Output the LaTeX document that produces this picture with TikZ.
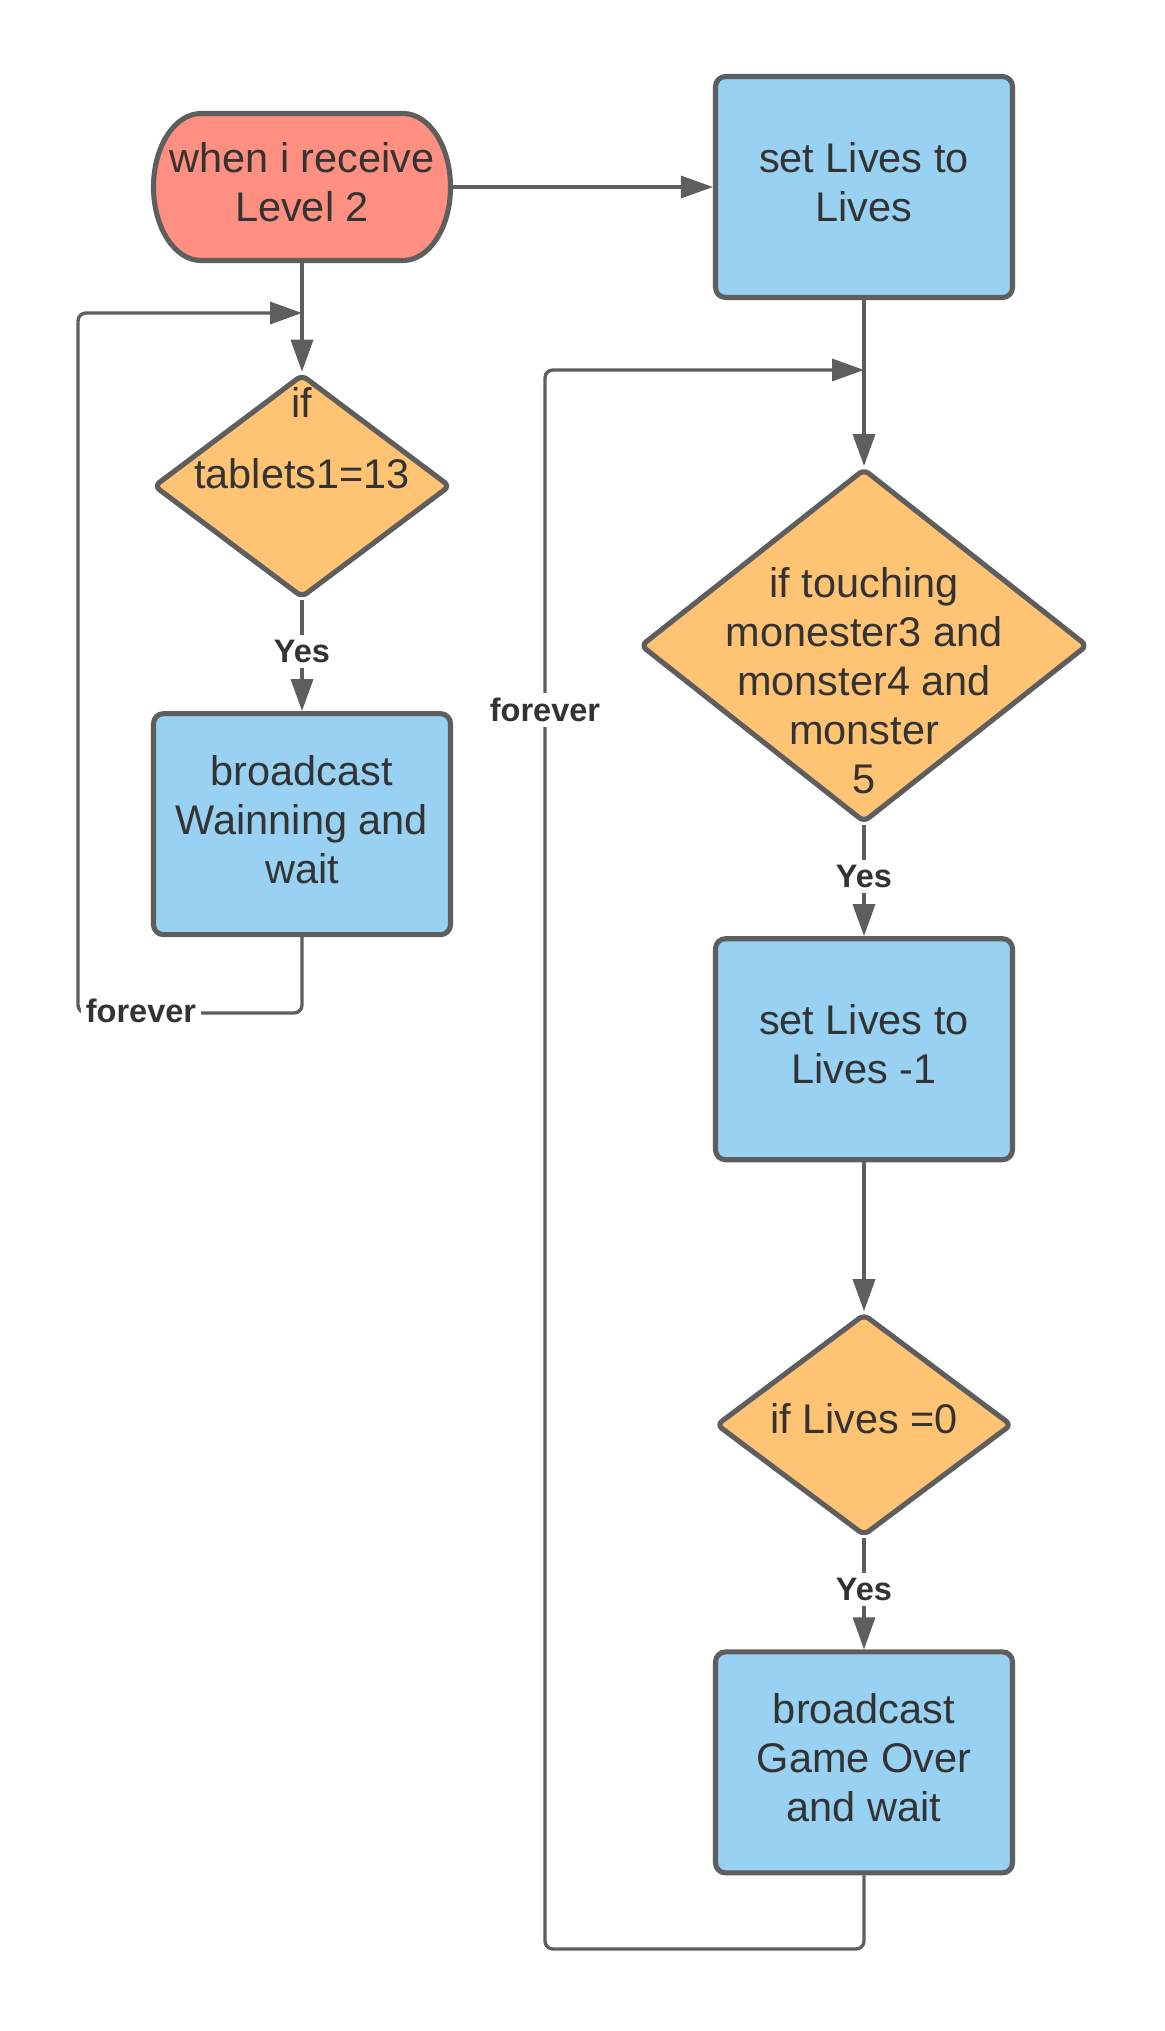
\documentclass[tikz,border=0pt]{standalone}
\usepackage{fontspec}
\setmainfont{Liberation Sans}
\usetikzlibrary{arrows.meta,positioning,shapes.geometric}
\definecolor{ink}{HTML}{333333}
\definecolor{edge}{HTML}{5E5E5E}
\definecolor{startfill}{HTML}{FF8F80}
\definecolor{actfill}{HTML}{99D1F2}
\definecolor{testfill}{HTML}{FFC374}
\tikzset{
  arr/.style={-{Triangle[length=0.64cm,width=0.44cm]}, line width=1.9pt, draw=edge},
  looparr/.style={arr, rounded corners=0.16cm},
  figbase/.style={
    font=\fontsize{23.6}{27.9}\selectfont,
    line join=round,
  },
  startshape/.style={draw=edge, line width=2.9pt, fill=startfill},
  startbox/.style={
    rectangle, text=ink, align=center, inner sep=0pt, outer sep=0pt,
    text depth=0.2cm,
    minimum width=6.04cm, minimum height=3.04cm,
  },
  actbox/.style={
    rectangle, rounded corners=0.2cm,
    draw=edge, line width=2.9pt, fill=actfill,
    text=ink, align=center, inner sep=0pt, text depth=0.2cm,
    minimum width=5.94cm, minimum height=4.42cm,
  },
  test/.style={
    diamond, rounded corners=0.12cm,
    draw=edge, line width=2.9pt, fill=testfill,
    inner sep=0pt,
  },
  testtext/.style={text=ink, align=center, inner sep=0pt},
  lab/.style={font=\fontsize{18.5}{22}\bfseries\selectfont, text=ink, fill=white, inner sep=3pt},
}
\begin{document}
\begin{tikzpicture}[figbase]
  \path[use as bounding box, fill=white] (0,0) rectangle (23.28,-40.62);

  \coordinate (startpos) at (6.04,-3.74);
  \draw[startshape] (startpos) ++(-2.02,1.47) -- ++(4.04,0)
    arc[start angle=90, end angle=-90, x radius=0.95, y radius=1.47] -- ++(-4.04,0)
    arc[start angle=270, end angle=90, x radius=0.95, y radius=1.47] -- cycle;
  \node[startbox] (start) at (startpos) {when i receive\\Level 2};
  \node[actbox] (set1) at (17.28,-3.74) {set Lives to\\Lives};

  \node[test, below=2.175cm of start, minimum width=5.94cm, minimum height=4.47cm,
        label={[testtext, yshift=0.95cm]center:{if\\[0.44cm]tablets1=13}}] (d1) {};
  \node[actbox, below=2.215cm of d1] (warn) {broadcast\\Wainning and\\wait};

  \node[test, below=3.32cm of set1, minimum width=8.95cm, minimum height=7.08cm,
        label={[testtext, yshift=-0.71cm]center:{if touching\\monester3 and\\monster4 and\\monster\\5}}] (d2) {};
  \node[actbox, below=2.22cm of d2] (set2) {set Lives to\\Lives -1};
  \node[test, below=2.98cm of set2, minimum width=5.92cm, minimum height=4.44cm,
        label={[testtext, yshift=0.13cm]center:{if Lives =0}}] (d3) {};
  \node[actbox, below=2.22cm of d3] (over) {broadcast\\Game Over\\and wait};

  \coordinate (l1) at (1.56,-20.26);
  \coordinate (j1) at (6.04,-6.26);
  \coordinate (r1) at (10.9,-38.98);
  \coordinate (j2) at (17.28,-7.4);

  \draw[arr] (start) -- (set1);
  \draw[arr] (start) -- (d1);
  \draw[arr] (d1) -- node[lab, pos=0.46] (yes1) {Yes} (warn);
  \draw[arr] (set1) -- (d2);
  \draw[arr] (d2) -- node[lab, pos=0.46] (yes2) {Yes} (set2);
  \draw[arr] (set2) -- (d3);
  \draw[arr] (d3) -- node[lab, pos=0.46] (yes3) {Yes} (over);

  \draw[looparr] (warn.south) |- (l1) |- (j1);
  \draw[looparr] (over.south) |- (r1) |- (j2);
  \node[lab] (fv1) at (2.82,-20.22) {forever};
  \node[lab] (fv2) at (10.9,-14.2) {forever};
\end{tikzpicture}
\end{document}
